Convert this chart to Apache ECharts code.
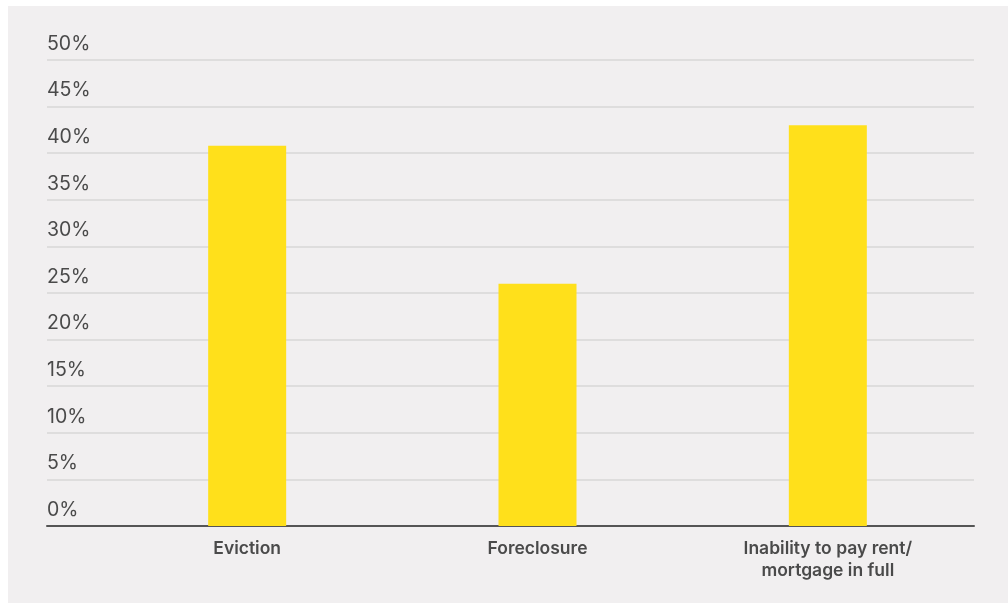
<!DOCTYPE html>
<html>
<head>
<meta charset="utf-8">
<script src="https://cdn.jsdelivr.net/npm/echarts@6/dist/echarts.min.js"></script>
<style>
  html, body { margin: 0; padding: 0; background: #ffffff; }
  #panel { position: absolute; left: 8px; top: 6px; width: 1000px; height: 597px; background: #f1eff0; }
  #chart { width: 1000px; height: 597px; }
</style>
</head>
<body>
<div id="panel"><div id="chart"></div></div>
<script>
const categories = ['Eviction', 'Foreclosure', 'Inability to pay rent/\nmortgage in full'];
const values = [40.8, 26.0, 43.0];
const yMin = 0, yMax = 50, yStep = 5;

const chart = echarts.init(document.getElementById('chart'));
const font = 'Inter, "Noto Sans", sans-serif';
chart.setOption({
  backgroundColor: 'transparent',
  animation: false,
  grid: [
    { left: 39, right: 34, top: 54, bottom: 77 },
    { left: 94, right: 35, top: 54, bottom: 77 }
  ],
  xAxis: [
    { gridIndex: 0, type: 'category', data: categories, axisLabel: { show: false }, axisTick: { show: false },
      axisLine: { show: true, lineStyle: { color: '#555555', width: 2 } } },
    { gridIndex: 1, type: 'category', data: categories, axisTick: { show: false },
      axisLine: { show: false },
      axisLabel: { color: '#4a4a4a', fontFamily: font, fontWeight: 600, fontSize: 17.5, lineHeight: 22, margin: 12 } }
  ],
  yAxis: [
    { gridIndex: 0, type: 'value', min: yMin, max: yMax, interval: yStep,
      axisLine: { show: false }, axisTick: { show: false },
      splitLine: { show: true, lineStyle: { color: '#d7d7d7', width: 1.5 } },
      axisLabel: { inside: true, formatter: '{value}%', color: '#4a4a4a', fontFamily: font, fontSize: 19.5,
        verticalAlign: 'bottom', align: 'left', margin: 0, padding: [0, 0, 6, 0] } },
    { gridIndex: 1, type: 'value', min: yMin, max: yMax, interval: yStep, show: false }
  ],
  series: [{
    type: 'bar', xAxisIndex: 1, yAxisIndex: 1, data: values, barWidth: 78,
    itemStyle: { color: '#ffe01b' }, z: 3
  }]
});
</script>
</body>
</html>
